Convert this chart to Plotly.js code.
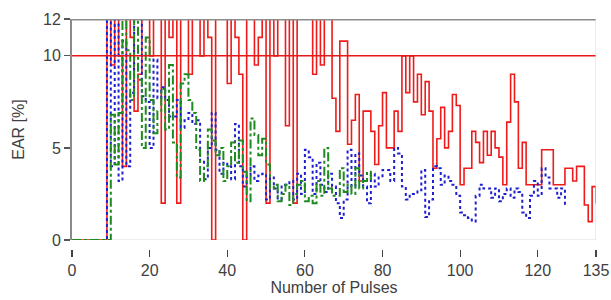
<!DOCTYPE html>
<html>
<head>
<meta charset="utf-8">
<script src="https://cdn.plot.ly/plotly-3.0.1.min.js"></script>
<style>
  html, body { margin: 0; padding: 0; background: #ffffff; }
  #chart { width: 611px; height: 300px; }
</style>
</head>
<body>
<div id="chart"></div>
<script>
// Pulse number (x) and EAR [%] values (y) per series
const redY = [0,0,0,0,0,0,0,0,0,14,9.5,14,10,4,14,11,7,9,14,14,
  10,14,14,2,14,11,14,2,14,12,9,14,14,10,14,11,0,14,14,12,
  8.5,14,11,9,0,14,14,9.5,11,14,2,14,10,14,12,6.2,14,2,14,14,
  12.5,14,9,14,9.5,14,14,7.7,5.9,10.8,10.8,5.2,6.5,7.9,3.2,7,7,5.9,4.1,6.2,
  8,5,5,7,5.9,10,8,10,7.5,9,6.8,8.6,7,3.9,5.5,7.2,5,5.9,7.9,7.3,
  3,3.9,3.9,5.9,5.3,4.2,5.9,4.6,5.9,5,4.5,3,6.4,9,7.5,3.9,5.3,3,3,3,
  3,4.9,4.9,4.9,3,3,3,3.9,3.9,3.2,4,4,1.9,1,2.9,2];
const blueY = [0,0,0,0,0,0,0,0,0,14,4,14,3.2,10.8,4,8,14,14,7.8,7.5,
  5,9.8,7.7,8.3,7.6,6.7,6.7,7.6,6.1,6.5,6.9,6.3,6.5,4.3,3.3,5,6.9,4.9,3.6,4.2,
  4,3.3,6.3,4,2.9,3.5,4,3.2,3.5,3.6,2.2,3.4,2.8,2.2,3,3,3.2,2.2,3.6,2.5,
  4.9,4.5,2.5,4.2,3,2.6,3.6,2.9,2,1.2,2.2,4.9,2.9,4.7,3.5,2.9,2,3.6,2.9,3.4,
  3.8,3.8,3.2,5,4.7,2.9,2.2,2.5,2.5,2.7,3.8,1.25,2.2,4,3.9,3,3.5,3.2,3,2.4,
  1.5,1.35,1.2,1,2.4,3,2.8,2.8,2.3,2.8,2.1,2.5,2.8,2.3,2.8,2.6,1.5,1.2,2.4,3.2,
  2.4,3.9,3.4,2.8,2.8,2.3,2.8,1.9];
const greenY = [0,0,0,0,0,0,0,0,0,0,6.8,4.1,6.9,14,10.3,7.6,12,8.7,5,11,
  7.6,5.8,7,8.2,6,9.5,5.3,3.4,8.5,9,7.6,6.9,4.9,3.2,4,6,5.4,4.6,5,3.2,
  4,5.3,4.2,5.4,3.7,2.1,6.6,5.7,4.6,5.5,4.1,2.8,3,2.1,2.5,3,1.9,2.5,3,3.2,
  2.1,2.4,2,3.2,2.4,5,2.8,2.4,2.4,3.9,2.6,3,2.5,3.9,2.8,3.2,3.7,3.2];
const thresholdY = 10;
const xRange = [0, 135];
const xTickVals = [0, 20, 40, 60, 80, 100, 120, 135];
const yTickVals = [0, 5, 10, 12];

const idx = n => Array.from({length: n}, (_, i) => i);

const traces = [
  {x: idx(redY.length), y: redY, mode: 'lines', line: {color: '#f01a1a', width: 1.6, shape: 'hv'}},
  {x: idx(blueY.length), y: blueY, mode: 'lines', line: {color: '#1f1fd0', width: 2, dash: 'dot', shape: 'hv'}},
  {x: idx(greenY.length), y: greenY, mode: 'lines', line: {color: '#1f8a1f', width: 2, dash: 'dashdot', shape: 'hv'}},
  {x: xRange, y: [thresholdY, thresholdY], mode: 'lines', line: {color: '#e81818', width: 1.5}}
];

const font = {family: '"Liberation Sans", Arial, sans-serif', size: 16, color: '#404040'};

const layout = {
  width: 611, height: 300,
  margin: {l: 72, r: 15, t: 19, b: 51},
  paper_bgcolor: '#ffffff', plot_bgcolor: '#ffffff',
  showlegend: false,
  font: font,
  xaxis: {
    range: xRange, tickvals: xTickVals, ticktext: xTickVals.map(String),
    anchor: 'free', position: 0,
    showline: false, showgrid: false, zeroline: false,
    ticks: 'outside', ticklen: 7, tickwidth: 1.2, tickcolor: '#444',
    tickfont: font,
    title: {text: 'Number of Pulses', font: font, standoff: 2}
  },
  yaxis: {
    range: [0, 12], domain: [0.0391, 1],
    tickvals: yTickVals, ticktext: yTickVals.map(String),
    showline: true, linecolor: '#8a8a8a', linewidth: 2,
    showgrid: false, zeroline: false,
    ticks: 'outside', ticklen: 6, tickwidth: 1.2, tickcolor: '#555',
    tickfont: font,
    title: {text: 'EAR [%]', font: font, standoff: 14}
  },
  shapes: [
    {type: 'line', xref: 'x', yref: 'y', x0: 0, x1: 135, y0: 12, y1: 12, line: {color: '#8c8c8c', width: 3}},
    {type: 'line', xref: 'x', yref: 'y', x0: 135, x1: 135, y0: 0, y1: 12, line: {color: '#d8d8d8', width: 1}},
    {type: 'line', xref: 'x', yref: 'y', x0: 0, x1: 135, y0: 0, y1: 0, line: {color: '#dddddd', width: 1}, layer: 'below'}
  ]
};

Plotly.newPlot('chart', traces, layout, {displayModeBar: false, staticPlot: true});
</script>
</body>
</html>
